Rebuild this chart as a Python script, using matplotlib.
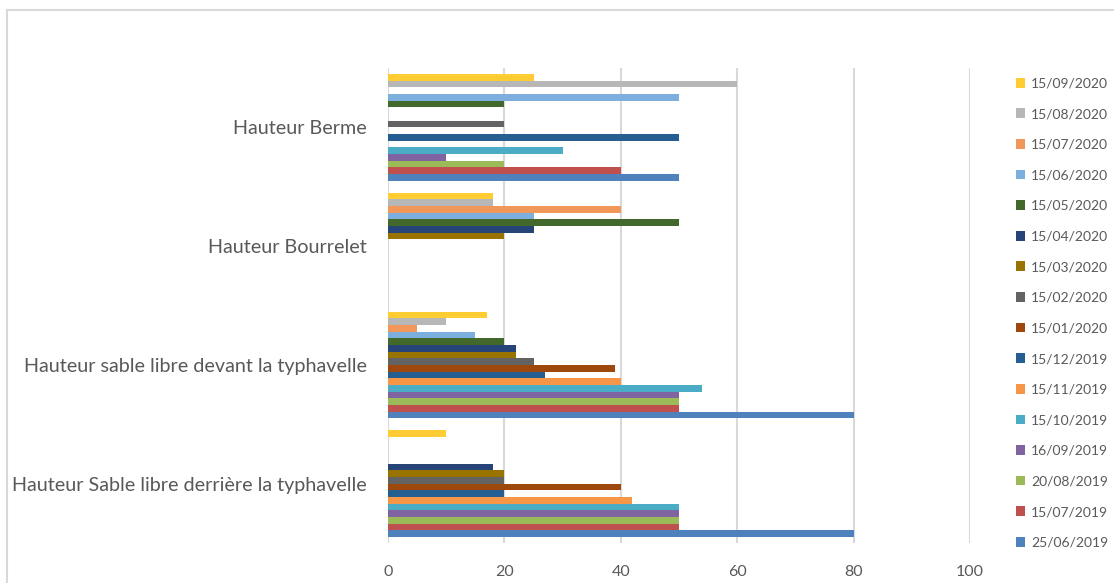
import numpy as np
import matplotlib.pyplot as plt
from matplotlib.patches import Patch, Rectangle

plt.rcParams['font.family'] = ['Lato', 'DejaVu Sans']

# categories, bottom to top
categories = ['Hauteur Sable libre derrière la typhavelle',
              'Hauteur sable libre devant la typhavelle',
              'Hauteur Bourrelet',
              'Hauteur Berme']

dates = ['25/06/2019', '15/07/2019', '20/08/2019', '16/09/2019',
         '15/10/2019', '15/11/2019', '15/12/2019', '15/01/2020',
         '15/02/2020', '15/03/2020', '15/04/2020', '15/05/2020',
         '15/06/2020', '15/07/2020', '15/08/2020', '15/09/2020']

colors = ['#4F81BD', '#C0504D', '#9BBB59', '#8064A2',
          '#4BACC6', '#F79646', '#255E91', '#9E480E',
          '#636363', '#997300', '#264478', '#43682B',
          '#7CAFDD', '#F1975A', '#B7B7B7', '#FFCD33']

# values per date: [derrière, devant, bourrelet, berme]
values = [
    [80, 80, 0, 50],
    [50, 50, 0, 40],
    [50, 50, 0, 20],
    [50, 50, 0, 10],
    [50, 54, 0, 30],
    [42, 40, 0, 0],
    [20, 27, 0, 50],
    [40, 39, 0, 0],
    [20, 25, 0, 20],
    [20, 22, 20, 0],
    [18, 22, 25, 0],
    [0, 20, 50, 20],
    [0, 15, 25, 50],
    [0, 5, 40, 0],
    [0, 10, 18, 60],
    [10, 17, 18, 25],
]

fig = plt.figure(figsize=(11.14, 5.83), dpi=100)
ax = fig.add_axes([388 / 1114, (583 - 543) / 583, (970 - 388) / 1114, 475 / 583])

n = len(dates)
pitch = 0.0561
y = np.arange(len(categories))
for i in range(n):
    offs = (i - (n - 1) / 2) * pitch
    ax.barh(y + offs, values[i], height=pitch, color=colors[i],
            label=dates[i], zorder=3)

ax.set_xlim(0, 100)
ax.set_ylim(-0.5, 3.5)
ax.set_xticks(np.arange(0, 101, 20))
ax.set_yticks(y)
ax.set_yticklabels(categories)
ax.grid(axis='x', color='#D9D9D9', linewidth=1.5, zorder=0)
for s in ax.spines.values():
    s.set_visible(False)
ax.tick_params(axis='both', length=0, colors='#595959')
ax.tick_params(axis='x', labelsize=11.5, pad=16)
ax.tick_params(axis='y', labelsize=14.2, pad=15)

handles = [Patch(facecolor=c, edgecolor='none') for c in colors]
leg = fig.legend(handles[::-1], dates[::-1], loc='upper left',
                 bbox_to_anchor=(1010 / 1114, 1 - 72 / 583),
                 frameon=False, fontsize=10, labelcolor='#595959',
                 handlelength=0.7, handleheight=0.7, handletextpad=0.4,
                 labelspacing=1.34, borderaxespad=0)

# chart border
fig.patches.append(Rectangle((7 / 1114, -0.1), 1.2, 1.1 - 10 / 583,
                             transform=fig.transFigure, fill=False,
                             edgecolor='#D9D9D9', linewidth=1.5))

fig.savefig('out.png', dpi=100)
